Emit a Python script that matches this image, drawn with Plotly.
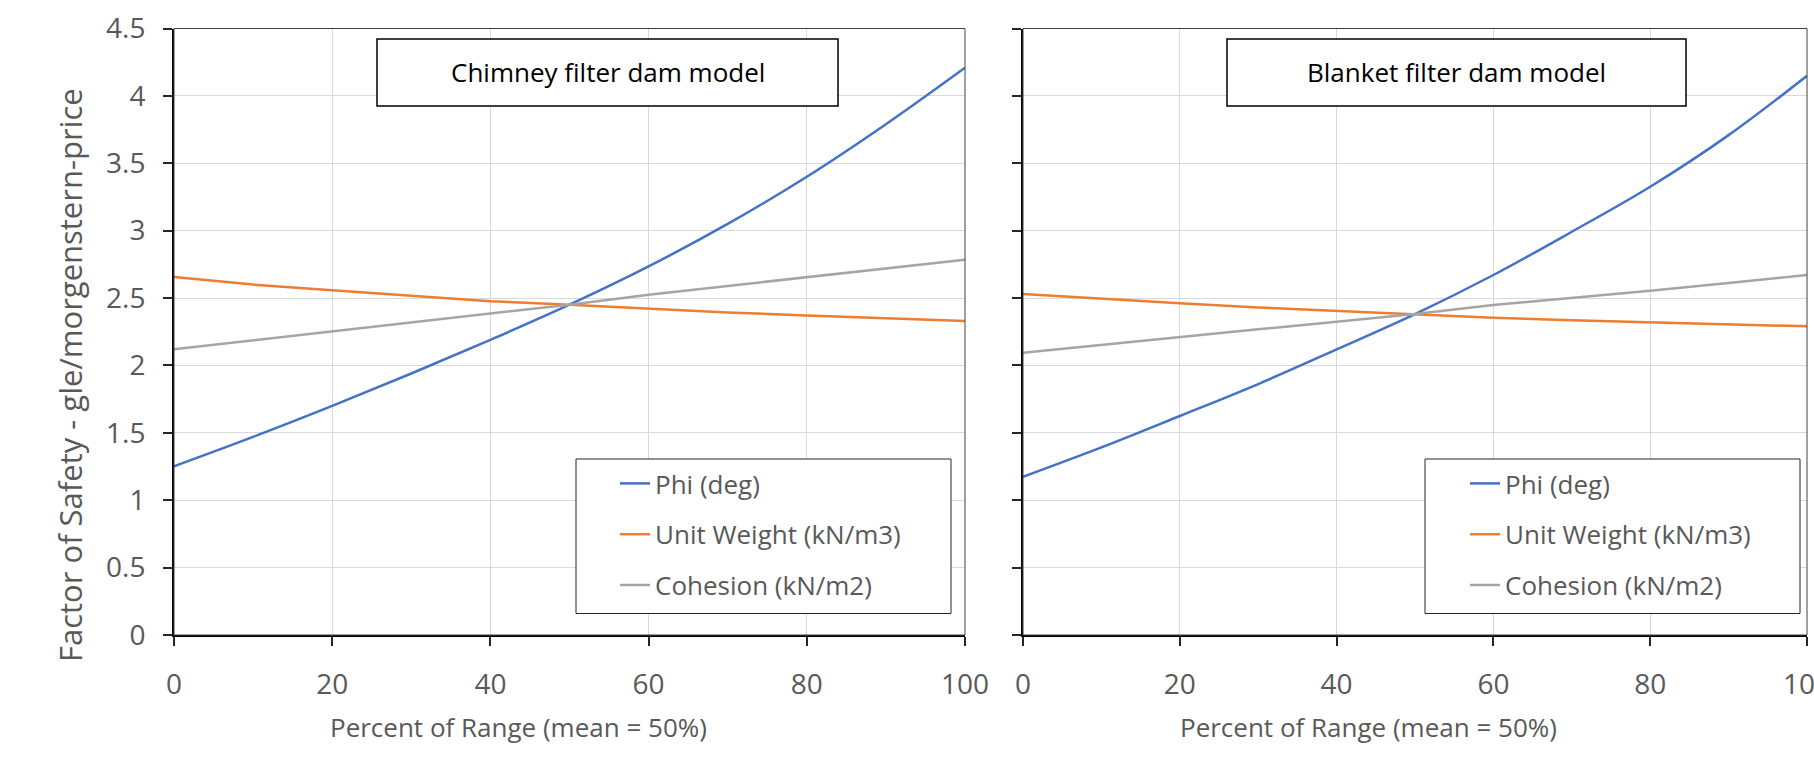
import plotly.graph_objects as go

# ---------------- data ----------------
pct_range = [0, 10, 20, 30, 40, 50, 60, 70, 80, 90, 100]

chimney_phi = [1.252, 1.47, 1.70, 1.94, 2.19, 2.451, 2.735, 3.05, 3.40, 3.79, 4.209]
chimney_unit_weight = [2.656, 2.60, 2.558, 2.515, 2.477, 2.451, 2.420, 2.393, 2.371, 2.350, 2.329]
chimney_cohesion = [2.121, 2.187, 2.253, 2.319, 2.384, 2.451, 2.525, 2.59, 2.656, 2.72, 2.785]

blanket_phi = [1.174, 1.392, 1.625, 1.862, 2.119, 2.381, 2.671, 2.992, 3.326, 3.709, 4.149]
blanket_unit_weight = [2.530, 2.493, 2.461, 2.430, 2.404, 2.381, 2.354, 2.336, 2.320, 2.305, 2.290]
blanket_cohesion = [2.094, 2.153, 2.213, 2.268, 2.324, 2.381, 2.448, 2.50, 2.554, 2.612, 2.671]

series_names = ["Phi (deg)", "Unit Weight (kN/m3)", "Cohesion (kN/m2)"]
panel_titles = ["Chimney filter dam model", "Blanket filter dam model"]
y_title = "Factor of Safety - gle/morgenstern-price"
x_title = "Percent of Range (mean = 50%)"
y_ticks = [0, 0.5, 1, 1.5, 2, 2.5, 3, 3.5, 4, 4.5]
x_ticks = [0, 20, 40, 60, 80, 100]

# ---------------- layout helpers ----------------
W, H = 1814, 758
FONT = "Open Sans"
GREY_TXT = "#595959"
COLORS = ["#4472C4", "#ED7D31", "#A5A5A5"]
SHAPES = ["spline", "linear", "linear"]


def px(x):
    return x / W


def py(y):
    return 1 - y / H


fig = go.Figure()

panels = [
    (chimney_phi, chimney_unit_weight, chimney_cohesion),
    (blanket_phi, blanket_unit_weight, blanket_cohesion),
]
for p, series in enumerate(panels):
    sfx = "" if p == 0 else "2"
    for i, (name, vals) in enumerate(zip(series_names, series)):
        fig.add_trace(go.Scatter(
            x=pct_range, y=vals, mode="lines", name=name,
            line=dict(color=COLORS[i], width=2.5, shape=SHAPES[i]),
            xaxis="x" + sfx, yaxis="y" + sfx,
            legend="legend" + sfx, legendgroup=f"g{p}{i}",
        ))

common_axis = dict(
    showgrid=True, gridcolor="#D9D9D9", gridwidth=1,
    showline=True, linecolor="#000000", linewidth=2,
    ticks="outside", ticklen=9, tickcolor="#262626", tickwidth=1.5,
    tickfont=dict(family=FONT, size=28, color=GREY_TXT),
    zeroline=False, automargin=False, ticklabeloverflow="allow",
)

xdom1 = [px(174), px(965)]
xdom2 = [px(1023), px(1807)]
ydom = [py(635), py(28.5)]

fig.update_layout(
    template="none",
    width=W, height=H, autosize=False,
    margin=dict(l=0, r=0, t=0, b=0, pad=0),
    paper_bgcolor="white", plot_bgcolor="white",
    font=dict(family=FONT, color=GREY_TXT),
    xaxis=dict(domain=xdom1, anchor="y", range=[0, 100], tickvals=x_ticks,
               ticklabelstandoff=14, **common_axis),
    yaxis=dict(domain=ydom, anchor="x", range=[0, 4.5], tickvals=y_ticks,
               ticklabelstandoff=12, **common_axis),
    xaxis2=dict(domain=xdom2, anchor="y2", range=[0, 100], tickvals=x_ticks,
                ticklabelstandoff=14, **common_axis),
    yaxis2=dict(domain=ydom, anchor="x2", range=[0, 4.5], tickvals=y_ticks,
                showticklabels=False, **common_axis),
    legend=dict(x=px(615), xanchor="left", y=py(460), yanchor="top",
                bgcolor="rgba(0,0,0,0)", borderwidth=0, tracegroupgap=14,
                font=dict(family=FONT, size=26, color=GREY_TXT)),
    legend2=dict(x=px(1465), xanchor="left", y=py(460), yanchor="top",
                 bgcolor="rgba(0,0,0,0)", borderwidth=0, tracegroupgap=14,
                 font=dict(family=FONT, size=26, color=GREY_TXT)),
)

shapes = []
# thin plot-area borders
for xr, yr in (("x domain", "y domain"), ("x2 domain", "y2 domain")):
    shapes.append(dict(type="rect", xref=xr, yref=yr, x0=0, x1=1, y0=0, y1=1,
                       line=dict(color="#404040", width=1), layer="above"))
# legend boxes
for x0, x1 in ((576, 951), (1425, 1800)):
    shapes.append(dict(type="rect", xref="paper", yref="paper",
                       x0=px(x0), x1=px(x1), y0=py(613.5), y1=py(459),
                       line=dict(color="#262626", width=1), fillcolor="white",
                       layer="above"))
# title boxes
title_boxes = [(377, 838), (1227, 1686)]
for x0, x1 in title_boxes:
    shapes.append(dict(type="rect", xref="paper", yref="paper",
                       x0=px(x0), x1=px(x1), y0=py(106), y1=py(39),
                       line=dict(color="#000000", width=1.5), fillcolor="white",
                       layer="above"))
fig.update_layout(shapes=shapes)

annotations = []
for (x0, x1), t in zip(title_boxes, panel_titles):
    annotations.append(dict(text=t, xref="paper", yref="paper",
                            x=px((x0 + x1) / 2), y=py(72.5),
                            xanchor="center", yanchor="middle", showarrow=False,
                            font=dict(family=FONT, size=26, color="#000000")))
annotations.append(dict(text=y_title, xref="paper", yref="paper",
                        x=px(70), y=py(375), textangle=-90,
                        xanchor="center", yanchor="middle", showarrow=False,
                        font=dict(family=FONT, size=31, color=GREY_TXT)))
for cx in (518, 1368):
    annotations.append(dict(text=x_title, xref="paper", yref="paper",
                            x=px(cx), y=py(727),
                            xanchor="center", yanchor="middle", showarrow=False,
                            font=dict(family=FONT, size=26, color=GREY_TXT)))
fig.update_layout(annotations=annotations)

fig.write_html("out.html")
